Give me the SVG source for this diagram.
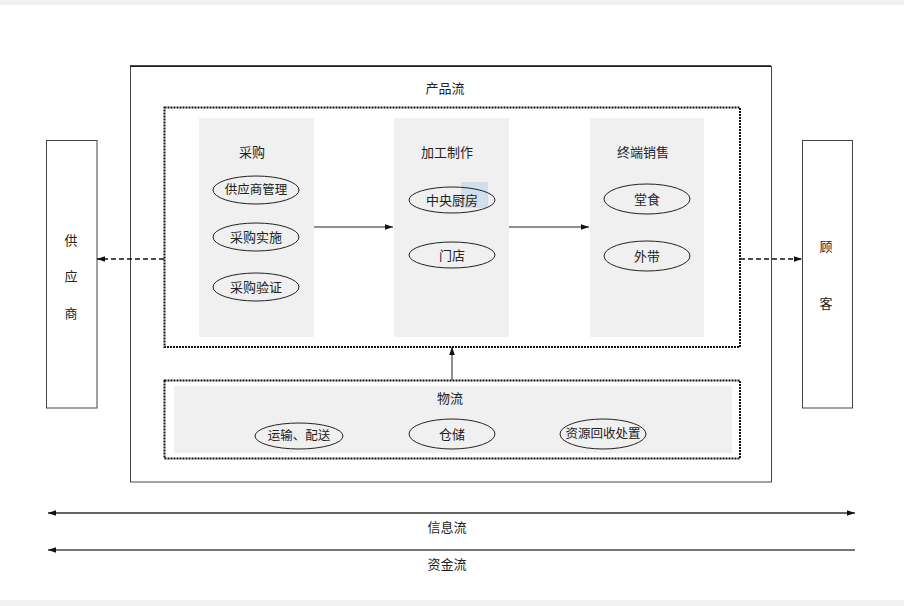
<svg xmlns="http://www.w3.org/2000/svg" width="904" height="606" viewBox="0 0 904 606">
<defs>
<style>
text{font-family:"Liberation Serif","Noto Sans CJK SC",serif;font-size:13px;fill:#222;text-anchor:middle;dominant-baseline:central}
.sm{font-size:12.5px}
.box{fill:#fff;stroke:#444;stroke-width:1}
.dot{fill:none;stroke:#111;stroke-width:2;stroke-dasharray:2 1}
.col{fill:#f0f0f0;stroke:none}
.ell{fill:none;stroke:#222;stroke-width:1}
.ln{stroke:#222;stroke-width:1;fill:none}
.dash{stroke:#111;stroke-width:1.4;stroke-dasharray:5 3;fill:none}
</style>
<marker id="ah" viewBox="0 0 10 10" refX="10" refY="5" markerWidth="10" markerHeight="8" markerUnits="userSpaceOnUse" orient="auto-start-reverse">
<path d="M0,1.5 L10,5 L0,8.5 z" fill="#111"/>
</marker>
</defs>
<rect x="0" y="0" width="904" height="606" fill="#fff"/>
<rect x="0" y="0" width="904" height="5" fill="#f2f2f2"/>
<rect x="0" y="600" width="904" height="6" fill="#f2f2f2"/>

<g id="outer">
<rect class="box" x="130.5" y="66.5" width="641" height="415.5"/>
<line x1="130" y1="66" x2="771" y2="66" stroke="#111" stroke-width="1.5"/>
<text x="445" y="88">产品流</text>
</g>

<g id="product-flow">
<rect class="dot" x="164.5" y="107.5" width="575.5" height="239.5"/>
</g>

<g id="procurement">
<rect class="col" x="199" y="118" width="115" height="219"/>
<text x="252" y="152">采购</text>
<g id="supplier-mgmt"><ellipse class="ell" cx="256" cy="190" rx="43" ry="14"/><text class="sm" x="256" y="190">供应商管理</text></g>
<g id="proc-impl"><ellipse class="ell" cx="256" cy="237" rx="43" ry="14"/><text x="256" y="237">采购实施</text></g>
<g id="proc-verify"><ellipse class="ell" cx="256" cy="287" rx="43" ry="14"/><text x="256" y="287">采购验证</text></g>
</g>

<g id="processing">
<rect class="col" x="394" y="118" width="115" height="219"/>
<text x="447" y="152">加工制作</text>
<rect x="461" y="182" width="27" height="26" fill="#c9d9ea" opacity="0.8"/>
<g id="central-kitchen"><ellipse class="ell" cx="452" cy="200" rx="43" ry="13"/><text x="452" y="200">中央厨房</text></g>
<g id="store"><ellipse class="ell" cx="452" cy="255" rx="43" ry="13"/><text x="452" y="255">门店</text></g>
</g>

<g id="sales">
<rect class="col" x="590" y="118" width="114" height="219"/>
<text x="643" y="152">终端销售</text>
<g id="dine-in"><ellipse class="ell" cx="647" cy="199" rx="43" ry="15"/><text x="647" y="199">堂食</text></g>
<g id="takeaway"><ellipse class="ell" cx="647" cy="256" rx="43" ry="15"/><text x="647" y="256">外带</text></g>
</g>

<g id="logistics">
<rect class="dot" x="164.5" y="380.5" width="575.5" height="78"/>
<rect class="col" x="174" y="386" width="558" height="67"/>
<text x="450" y="398">物流</text>
<g id="transport"><ellipse class="ell" cx="299" cy="436" rx="44" ry="13"/><text class="sm" x="299" y="436">运输、配送</text></g>
<g id="storage"><ellipse class="ell" cx="452" cy="434" rx="43" ry="15"/><text x="452" y="434">仓储</text></g>
<g id="recycle"><ellipse class="ell" cx="603" cy="434" rx="43" ry="15"/><text class="sm" x="603" y="434">资源回收处置</text></g>
</g>

<g id="supplier">
<rect class="box" x="46.5" y="140.5" width="50.5" height="267.5"/>
<text x="71" y="240">供</text>
<text x="71" y="276">应</text>
<text x="71" y="313">商</text>
</g>

<g id="customer">
<rect class="box" x="802.5" y="140.5" width="50" height="267.5"/>
<text x="826" y="246">顾</text>
<text x="826" y="303">客</text>
</g>

<g id="connectors">
<line class="ln" x1="314" y1="227" x2="393" y2="227" marker-end="url(#ah)"/>
<line class="ln" x1="509" y1="227" x2="589" y2="227" marker-end="url(#ah)"/>
<line class="dash" x1="164" y1="259" x2="97" y2="259" marker-end="url(#ah)"/>
<line class="dash" x1="740" y1="259" x2="802" y2="259" marker-end="url(#ah)"/>
<line class="ln" x1="452" y1="380" x2="452" y2="347" marker-end="url(#ah)"/>
<line x1="48" y1="513" x2="855" y2="513" stroke="#333" stroke-width="1.5" marker-start="url(#ah)" marker-end="url(#ah)"/>
<line x1="855" y1="550" x2="48" y2="550" stroke="#777" stroke-width="2" marker-end="url(#ah)"/>
<text x="447" y="527">信息流</text>
<text x="447" y="564">资金流</text>
</g>
</svg>
